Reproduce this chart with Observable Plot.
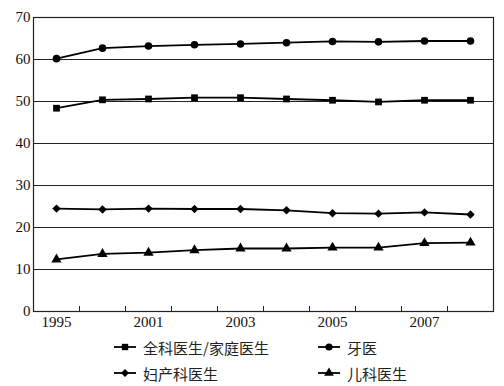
<!DOCTYPE html>
<html>
<head>
<meta charset="utf-8">
<script src="https://cdn.jsdelivr.net/npm/d3@7"></script>
<script src="https://cdn.jsdelivr.net/npm/@observablehq/plot@0.6"></script>
<style>
  html, body { margin: 0; padding: 0; background: #fff; }
  #chart { width: 504px; }
  #chart svg, #chart svg text { font-family: "Times New Roman", "Liberation Serif", "DejaVu Serif", serif !important; }
  .legend { display: grid; grid-template-columns: 204px 160px; margin-left: 113px; row-gap: 4px; margin-top: 4px;
    font-family: "Noto Sans CJK SC", sans-serif; font-size: 15px; color: #222; }
  .item { display: flex; align-items: center; height: 22px; }
  .item svg { margin-right: 6px; }
</style>
</head>
<body>
<div id="chart"></div>
<script>
const years = ["1995","2000","2001","2002","2003","2004","2005","2006","2007","2008"];
const labeledYears = ["1995","2001","2003","2005","2007"];
const seriesNames = ["全科医生/家庭医生", "牙医", "妇产科医生", "儿科医生"];
const symbols = ["square", "circle", "diamond2", "triangle"];
const gp = [48.4, 50.4, 50.6, 50.9, 50.9, 50.6, 50.3, 49.9, 50.3, 50.3];
const dentist = [60.2, 62.7, 63.2, 63.5, 63.7, 64.0, 64.3, 64.2, 64.4, 64.4];
const obgyn = [24.5, 24.3, 24.5, 24.4, 24.4, 24.1, 23.4, 23.3, 23.6, 23.1];
const pediatric = [12.4, 13.7, 14.0, 14.6, 15.0, 15.0, 15.2, 15.2, 16.3, 16.4];
const yTicks = [0, 10, 20, 30, 40, 50, 60, 70];

const seriesValues = [gp, dentist, obgyn, pediatric];
const data = seriesNames.flatMap((name, s) =>
  seriesValues[s].map((v, i) => ({series: name, symbol: symbols[s], i, year: years[i], value: v})));
const boundaries = years.slice(1).map((_, i) => i + 0.5);
const labelIdx = labeledYears.map(y => years.indexOf(y));

const plot = Plot.plot({
  width: 504,
  height: 332,
  marginTop: 17,
  marginLeft: 33,
  marginRight: 11,
  marginBottom: 21,
  style: {fontFamily: "'Times New Roman', 'Liberation Serif', serif", fontSize: "15px", color: "#111"},
  x: {domain: [-0.5, years.length - 0.5], label: null},
  y: {domain: [0, 70], label: null},
  marks: [
    Plot.ruleY(yTicks.filter(t => t > 0 && t < 70), {stroke: "#222", strokeWidth: 1}),
    Plot.tickX(boundaries, {x: d => d, stroke: "#222", insetTop: 289}),
    Plot.frame({stroke: "#222", strokeWidth: 1.2}),
    Plot.axisY({ticks: yTicks, tickSize: 0, tickPadding: 3, fontSize: 15, label: null}),
    Plot.axisX({ticks: labelIdx, tickFormat: i => years[i], tickSize: 0, tickPadding: 5, fontSize: 15, label: null}),
    Plot.line(data, {x: "i", y: "value", z: "series", stroke: "#000", strokeWidth: 1.8}),
    Plot.dot(data, {x: "i", y: "value", symbol: "symbol", fill: "#000", r: 3.8})
  ]
});
document.getElementById("chart").appendChild(plot);

// legend
const legend = document.createElement("div");
legend.className = "legend";
const symMap = {square: d3.symbolSquare, circle: d3.symbolCircle, diamond2: d3.symbolDiamond2, triangle: d3.symbolTriangle};
seriesNames.forEach((name, s) => {
  const item = document.createElement("div");
  item.className = "item";
  const sw = d3.create("svg").attr("width", 24).attr("height", 12);
  sw.append("line").attr("x1", 1).attr("x2", 23).attr("y1", 6).attr("y2", 6).attr("stroke", "#000").attr("stroke-width", 1.8);
  sw.append("path").attr("transform", "translate(12,6)").attr("d", d3.symbol(symMap[symbols[s]], Math.PI * 3.6 * 3.6)()).attr("fill", "#000");
  item.appendChild(sw.node());
  const t = document.createElement("span");
  t.textContent = name;
  item.appendChild(t);
  legend.appendChild(item);
});
document.body.appendChild(legend);
</script>
</body>
</html>
